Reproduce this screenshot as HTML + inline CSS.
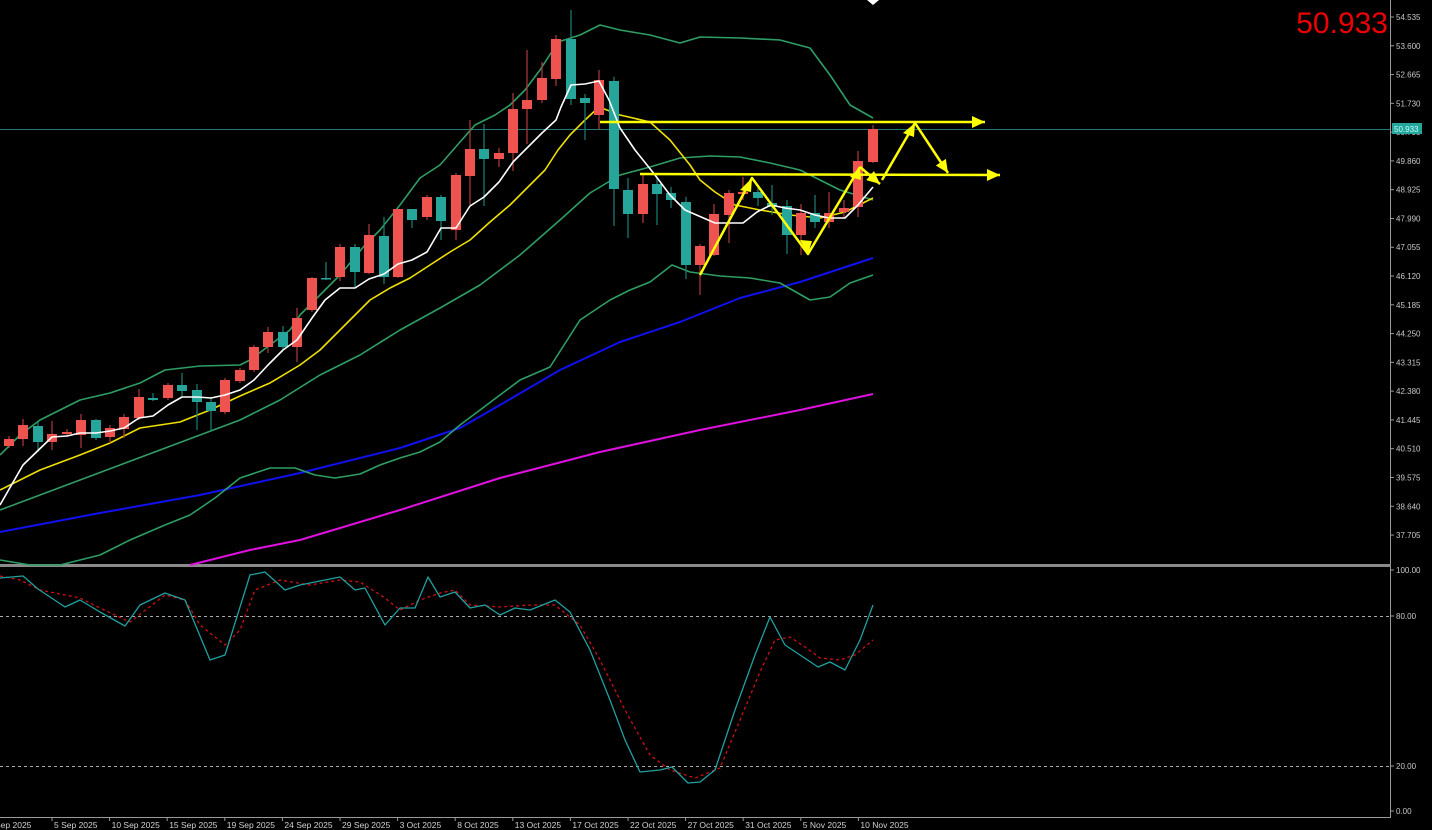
<!DOCTYPE html>
<html><head><meta charset="utf-8"><style>
html,body{margin:0;padding:0;background:#000;width:1432px;height:830px;overflow:hidden}
svg{display:block}
text{font-family:"Liberation Sans",sans-serif}
</style></head><body>
<svg id="s" width="1432" height="830" xmlns="http://www.w3.org/2000/svg">
<rect width="1432" height="830" fill="#000"/>
<g id="g"></g>
</svg>
<script>
const S='http://www.w3.org/2000/svg',G=document.getElementById('g');
function el(n,a,t){const e=document.createElementNS(S,n);for(const k in a)e.setAttribute(k,a[k]);if(t!=null)e.textContent=t;G.appendChild(e);return e;}
function pl(pts,c,w,extra){el('polyline',Object.assign({points:pts.map(p=>p.join(',')).join(' '),fill:'none',stroke:c,'stroke-width':w,'stroke-linejoin':'round'},extra||{}));}
el('line',{x1:1390.5,y1:0,x2:1390.5,y2:818,stroke:'#9a9a9a','stroke-width':1});
el('rect',{x:0,y:564,width:1391,height:3,fill:'#8a8a8a'});
el('line',{x1:0,y1:817.5,x2:1391,y2:817.5,stroke:'#9a9a9a'});
const pr=['54.535','53.600','52.665','51.730','50.795','49.860','48.925','47.990','47.055','46.120','45.185','44.250','43.315','42.380','41.445','40.510','39.575','38.640','37.705'];
pr.forEach((p,i)=>{const y=17+i*28.78;el('line',{x1:1390,y1:y,x2:1394,y2:y,stroke:'#9a9a9a'});el('text',{x:1396,y:y+3,fill:'#c8c8c8','font-size':8},p);});
[[570,'100.00'],[616,'80.00'],[766,'20.00'],[811,'0.00']].forEach(a=>{el('line',{x1:1390,y1:a[0],x2:1394,y2:a[0],stroke:'#9a9a9a'});el('text',{x:1396,y:a[0]+3,fill:'#c8c8c8','font-size':8},a[1]);});
el('line',{x1:0,y1:616.5,x2:1390,y2:616.5,stroke:'#aaa','stroke-dasharray':'3,3'});
el('line',{x1:0,y1:766.5,x2:1390,y2:766.5,stroke:'#aaa','stroke-dasharray':'3,3'});
const dates=['Sep 2025','5 Sep 2025','10 Sep 2025','15 Sep 2025','19 Sep 2025','24 Sep 2025','29 Sep 2025','3 Oct 2025','8 Oct 2025','13 Oct 2025','17 Oct 2025','22 Oct 2025','27 Oct 2025','31 Oct 2025','5 Nov 2025','10 Nov 2025'];
dates.forEach((d,i)=>{const x=i==0?-5:52+(i-1)*57.6;if(i>0)el('line',{x1:x,y1:817,x2:x,y2:821,stroke:'#9a9a9a'});el('text',{x:x+(i?2:0),y:828,fill:'#d0d0d0','font-size':8.5},d);});
el('line',{x1:0,y1:129.5,x2:1390,y2:129.5,stroke:'#1f7a7a','stroke-width':1});
el('rect',{x:1392,y:123,width:30,height:11,fill:'#26a69a'});
el('text',{x:1394,y:132,fill:'#bff','font-size':8},'50.933');
el('text',{x:1388,y:33,fill:'#e00','font-size':30,'text-anchor':'end'},'50.933');
el('path',{d:'M867 0 L873 5 L879 0Z',fill:'#fff'});
pl([[190,565],[250,550],[300,540],[400,510],[500,478],[600,452],[700,430],[800,410],[873,394]],'#e010e0',2);
pl([[0,532],[100,513],[200,495],[300,473],[400,448],[460,428],[500,405],[560,370],[620,342],[680,322],[740,298],[800,282],[873,258]],'#1010f0',2);
const bb='#2e9e64';
pl([[0,455],[20,435],[40,420],[60,410],[80,400],[110,393],[140,383],[165,370],[200,366],[240,365],[250,360],[270,345],[290,330],[300,315],[315,300],[340,275],[365,245],[380,230],[400,205],[420,178],[440,165],[460,142],[475,125],[495,115],[510,105],[525,90],[540,70],[558,42],[580,35],[600,25],[620,30],[650,35],[680,43],[700,37],[740,38],[780,40],[810,48],[830,75],[850,105],[873,118]],bb,1.6);
pl([[0,510],[40,495],[80,480],[120,465],[160,450],[200,435],[240,420],[280,400],[320,375],[360,355],[400,330],[440,308],[480,285],[520,255],[560,220],[590,193],[620,175],[650,167],[680,158],[710,156],[740,157],[770,163],[800,170],[840,190],[873,200]],bb,1.6);
pl([[0,560],[30,565],[60,565],[100,555],[130,540],[165,525],[190,515],[215,498],[240,478],[270,468],[295,468],[315,475],[335,478],[360,474],[380,465],[400,458],[420,452],[440,442],[460,425],[480,410],[500,395],[520,380],[550,367],[580,320],[610,300],[630,290],[650,282],[672,265],[690,272],[720,276],[750,278],[780,283],[810,300],[830,297],[850,283],[873,275]],bb,1.6);
pl([[0,490],[40,470],[80,455],[110,443],[140,428],[180,422],[210,410],[240,396],[270,383],[300,365],[320,350],[340,330],[355,315],[370,300],[390,288],[410,278],[430,265],[450,252],[470,240],[490,222],[510,205],[530,185],[545,170],[558,150],[570,135],[585,120],[599,107],[620,115],[650,122],[670,140],[690,165],[700,180],[715,192],[735,205],[760,210],[790,215],[820,218],[845,212],[873,198]],'#f0e000',1.6);
const C=[[9,446,439,436,448],[23,439,425,419,446],[38,426,442,422,452],[52,442,434,421,450],[67,434,432,429,436],[81,435,420,414,448],[96,420,438,419,440],[110,437,428,425,443],[124,429,417,414,438],[139,418,397,389,420],[153,398,400,393,401],[168,398,385,383,400],[182,385,391,373,396],[197,390,402,384,430],[211,402,411,397,430],[225,412,380,378,414],[240,381,370,368,383],[254,370,347,345,372],[268,347,332,327,353],[283,332,347,326,350],[297,347,318,308,362],[312,310,278,277,312],[326,278,279,262,280],[340,277,247,244,281],[355,247,272,244,287],[369,273,235,224,274],[384,236,277,217,284],[398,277,209,209,278],[412,209,220,209,228],[427,217,197,195,220],[441,197,221,195,240],[456,230,175,173,240],[470,176,149,120,205],[484,149,159,124,206],[499,159,153,148,167],[513,153,109,93,171],[527,109,100,50,144],[542,100,78,62,103],[556,79,39,35,86],[571,39,99,10,105],[585,98,103,94,140],[599,115,80,70,130],[614,81,189,77,226],[628,190,214,178,238],[643,214,184,173,223],[657,184,194,178,225],[671,193,200,187,208],[686,202,265,197,279],[700,265,246,244,295],[714,255,214,204,256],[729,215,193,190,243],[743,194,192,177,200],[758,192,198,188,206],[772,203,207,185,215],[787,206,235,200,254],[801,235,213,204,255],[815,213,222,195,228],[829,222,213,192,228],[844,212,208,200,218],[858,207,161,151,217],[873,162,129,125,163]];
C.forEach(c=>{const up=c[2]<c[1],col=up?'#ef5350':'#26a69a';const t=Math.min(c[1],c[2]),b=Math.max(c[1],c[2]);
el('line',{x1:c[0],y1:c[3],x2:c[0],y2:c[4],stroke:up?'#b03a3a':'#1f8078','stroke-width':1.2});
el('rect',{x:c[0]-5,y:t,width:10,height:Math.max(1.5,b-t),fill:col});});
pl([[0,505],[23,465],[52,437],[67,436],[80,433],[96,433],[110,431],[124,428],[139,418],[153,416],[168,405],[182,397],[197,397],[211,398],[225,395],[240,390],[254,380],[268,365],[283,350],[297,340],[312,318],[325,300],[340,288],[355,288],[369,279],[384,274],[398,264],[412,260],[427,252],[441,228],[456,228],[470,206],[484,197],[499,182],[513,162],[527,148],[542,133],[556,120],[561,107],[571,85],[585,84],[599,81],[609,100],[620,128],[635,150],[655,175],[670,195],[685,210],[715,223],[743,223],[757,212],[771,205],[785,208],[800,210],[815,215],[829,218],[845,218],[858,205],[873,187]],'#ffffff',1.6);
const Y='#ffff00';
function arrow(x1,y1,x2,y2){el('line',{x1,y1,x2,y2,stroke:Y,'stroke-width':2.5});const a=Math.atan2(y2-y1,x2-x1),L=13,W=6;
el('path',{d:`M${x2} ${y2} L${x2-L*Math.cos(a)+W*Math.sin(a)} ${y2-L*Math.sin(a)-W*Math.cos(a)} L${x2-L*Math.cos(a)-W*Math.sin(a)} ${y2-L*Math.sin(a)+W*Math.cos(a)}Z`,fill:Y});}
arrow(600,122,985,122);arrow(640,174,1000,175);
pl([[700,275],[752,178],[808,254],[860,167]],Y,2.5);arrow(860,167,880,184);
pl([[882,180],[915,123]],Y,2.5);arrow(915,123,948,173);
el('path',{d:'M752 178 L740 190 L751 192Z',fill:Y});el('path',{d:'M808 254 L800 240 L812 241Z',fill:Y});el('path',{d:'M915 123 L903 133 L914 137Z',fill:Y});el('path',{d:'M860 167 L850 177 L861 180Z',fill:Y});
pl([[0,576],[20,580],[40,590],[80,598],[100,608],[130,622],[165,595],[185,600],[200,625],[225,645],[240,630],[255,590],[280,580],[310,585],[340,580],[360,582],[385,598],[400,610],[420,600],[440,593],[455,590],[470,605],[500,607],[530,605],[555,605],[580,625],[600,660],[625,710],[650,755],[670,770],[695,778],[720,768],[740,720],[760,672],[775,640],[790,637],[805,647],[820,658],[840,660],[855,655],[873,640]],'#d01010',1.3,{'stroke-dasharray':'3,3'});
pl([[0,578],[23,576],[38,589],[65,607],[80,600],[100,612],[125,626],[140,605],[165,593],[185,600],[210,660],[225,655],[250,575],[265,572],[285,590],[300,585],[340,577],[355,590],[365,588],[385,625],[400,608],[415,608],[428,577],[440,597],[455,592],[470,608],[485,605],[500,615],[515,608],[530,610],[555,600],[570,612],[590,650],[610,700],[625,740],[640,772],[660,770],[672,767],[688,783],[700,782],[715,770],[735,710],[755,655],[770,617],[785,645],[800,655],[818,667],[830,662],[845,670],[860,640],[873,605]],'#20a0a0',1.3);
</script>
</body></html>
